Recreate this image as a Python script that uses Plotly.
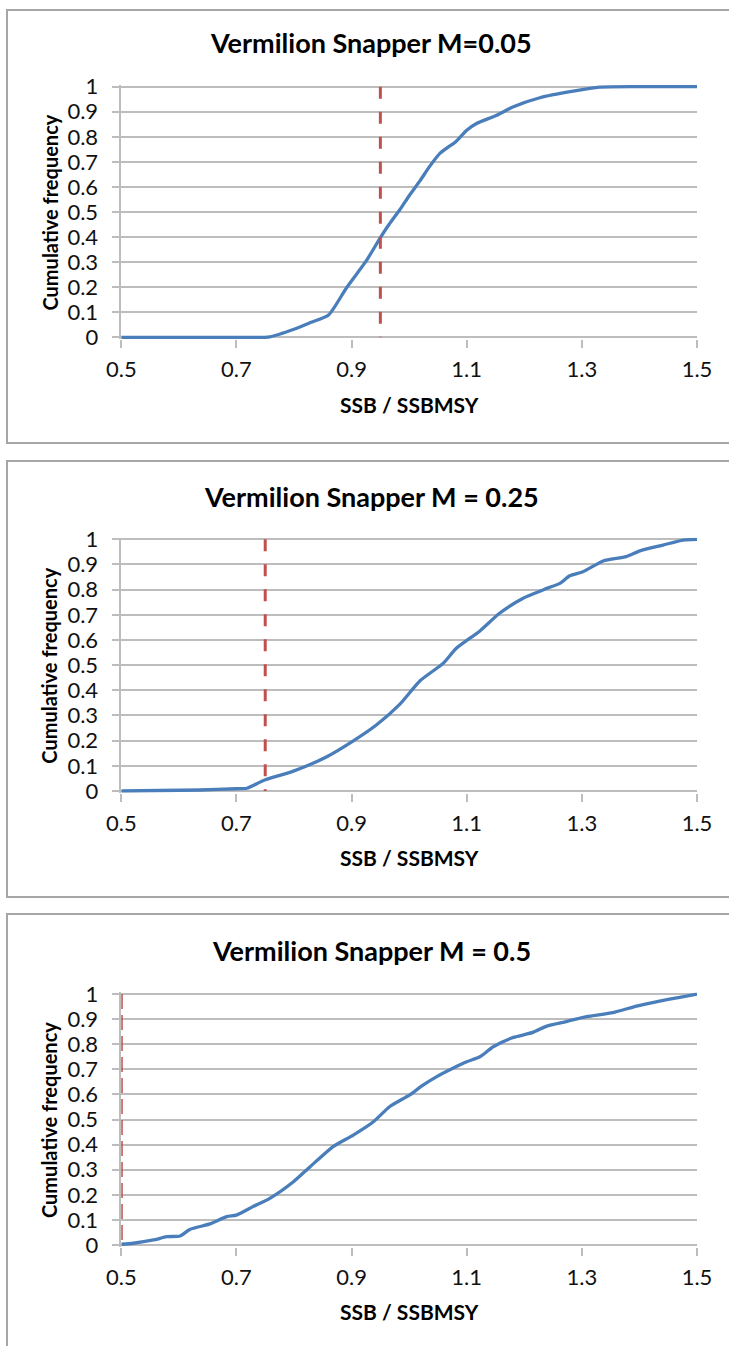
import plotly.graph_objects as go

# ---------------- data ----------------
x_ticks = [0.5, 0.7, 0.9, 1.1, 1.3, 1.5]
x_tick_labels = ["0.5", "0.7", "0.9", "1.1", "1.3", "1.5"]
y_ticks = [0, 0.1, 0.2, 0.3, 0.4, 0.5, 0.6, 0.7, 0.8, 0.9, 1]
y_tick_labels = ["0", "0.1", "0.2", "0.3", "0.4", "0.5", "0.6", "0.7", "0.8", "0.9", "1"]

titles = ["Vermilion Snapper M=0.05", "Vermilion Snapper M = 0.25", "Vermilion Snapper M = 0.5"]
x_title = "SSB / SSBMSY"
y_title = "Cumulative frequency"

# reference lines (SSB/SSBMSY threshold)
thresholds = [0.95, 0.75, 0.5]

p1_x = [0.5, 0.70, 0.758, 0.80, 0.83, 0.86, 0.891, 0.926, 0.949, 0.965, 0.984, 1.0, 1.019,
        1.035, 1.053, 1.066, 1.08, 1.1, 1.117, 1.152, 1.18, 1.227, 1.285, 1.331, 1.4, 1.5]
p1_y = [0.0, 0.0, 0.002, 0.032, 0.06, 0.089, 0.197, 0.307, 0.394, 0.45, 0.51, 0.565, 0.625,
        0.68, 0.733, 0.756, 0.778, 0.826, 0.853, 0.886, 0.919, 0.956, 0.982, 0.998, 1.0, 1.0]

p2_x = [0.5, 0.637, 0.70, 0.718, 0.749, 0.799, 0.857, 0.903, 0.943, 0.984, 1.019, 1.059,
        1.082, 1.123, 1.157, 1.198, 1.239, 1.262, 1.279, 1.302, 1.337, 1.377, 1.401, 1.441,
        1.476, 1.5]
p2_y = [0.0, 0.004, 0.009, 0.011, 0.044, 0.079, 0.136, 0.199, 0.262, 0.345, 0.438, 0.507,
        0.567, 0.636, 0.706, 0.766, 0.805, 0.825, 0.855, 0.871, 0.914, 0.931, 0.954, 0.977,
        0.997, 1.0]

p3_x = [0.5, 0.521, 0.556, 0.579, 0.602, 0.619, 0.654, 0.683, 0.700, 0.729, 0.758, 0.799,
        0.828, 0.868, 0.903, 0.938, 0.966, 1.001, 1.024, 1.048, 1.076, 1.100, 1.123, 1.146,
        1.181, 1.215, 1.239, 1.273, 1.308, 1.354, 1.395, 1.435, 1.470, 1.5]
p3_y = [0.003, 0.007, 0.02, 0.033, 0.036, 0.062, 0.084, 0.113, 0.119, 0.153, 0.186, 0.252,
        0.312, 0.392, 0.438, 0.491, 0.551, 0.598, 0.637, 0.671, 0.704, 0.730, 0.750, 0.790,
        0.827, 0.847, 0.872, 0.890, 0.910, 0.926, 0.952, 0.972, 0.987, 1.0]

series_x = [p1_x, p2_x, p3_x]
series_y = [p1_y, p2_y, p3_y]

# ---------------- layout geometry (pixels) ----------------
W, H = 729, 1346
FONT = "Lato"
BLUE = "#4A7EBB"
RED = "#C0504D"
GRID = "#BDBDBD"
BORDER = "#A6A6A6"

plot_left, plot_right = 121.3, 697.0
# (top of y=1, bottom of y=0) for each panel
panel_y = [(86.7, 337.3), (539.3, 791.0), (994.0, 1245.0)]
# border boxes (top, bottom)
boxes = [(10, 443), (461, 897), (914, 1360)]
box_left = 7
YPAD = 0.007

def px_x(p):
    return p / W

def px_y(p):
    return 1 - p / H

fig = go.Figure()
annotations = []
shapes = []

for i in range(3):
    n = "" if i == 0 else str(i + 1)
    xa, ya = "x" + n, "y" + n
    top, bot = panel_y[i]
    unit = bot - top
    dom_top = top - YPAD * unit
    dom_bot = bot + YPAD * unit

    fig.add_trace(go.Scatter(
        x=series_x[i], y=series_y[i], mode="lines",
        line=dict(color=BLUE, width=3.3, shape="spline", smoothing=0.6),
        xaxis=xa, yaxis=ya, showlegend=False, hoverinfo="skip"))
    fig.add_trace(go.Scatter(
        x=[thresholds[i], thresholds[i]], y=[1, 0], mode="lines",
        line=dict(color=RED, width=3, dash="12px,13px" if i < 2 else "15px,6px"),
        xaxis=xa, yaxis=ya, showlegend=False, hoverinfo="skip"))

    fig.update_layout(**{
        "xaxis" + n: dict(
            domain=[px_x(plot_left), px_x(plot_right)], range=[0.5, 1.5],
            anchor=ya, tickvals=x_ticks, ticktext=x_tick_labels,
            showgrid=False, zeroline=False, showline=False, automargin=False,
            ticks="outside", ticklen=8, tickwidth=1.5, tickcolor=GRID,
            ticklabelstandoff=3,
            tickfont=dict(family=FONT, size=22, color="#111111")),
        "yaxis" + n: dict(
            domain=[px_y(dom_bot), px_y(dom_top)], range=[-YPAD, 1 + YPAD],
            anchor=xa, tickvals=y_ticks, ticktext=y_tick_labels,
            showgrid=True, gridcolor=GRID, gridwidth=1.5, zeroline=False,
            showline=True, linecolor=GRID, linewidth=1.5, automargin=False,
            ticks="outside", ticklen=8, tickwidth=1.5, tickcolor=GRID,
            ticklabelstandoff=9,
            tickfont=dict(family=FONT, size=22, color="#111111")),
    })

    shift = bot - panel_y[0][1]
    annotations.append(dict(
        text="<b>" + titles[i] + "</b>", xref="paper", yref="paper",
        x=px_x(371), y=px_y(42.7 + shift), xanchor="center", yanchor="middle",
        showarrow=False, font=dict(family=FONT, size=27, color="#000000")))
    annotations.append(dict(
        text="<b>" + x_title + "</b>", xref="paper", yref="paper",
        x=px_x(409), y=px_y(404 + shift), xanchor="center", yanchor="middle",
        showarrow=False, font=dict(family=FONT, size=21, color="#000000")))
    annotations.append(dict(
        text="<b>" + y_title + "</b>", xref="paper", yref="paper",
        x=px_x(49), y=px_y((top + bot) / 2 + 0.5), xanchor="center", yanchor="middle",
        textangle=-90, showarrow=False,
        font=dict(family=FONT, size=20, color="#000000")))

    btop, bbot = boxes[i]
    shapes.append(dict(
        type="rect", xref="paper", yref="paper",
        x0=px_x(box_left), x1=px_x(W + 20), y0=px_y(bbot), y1=px_y(btop),
        line=dict(color=BORDER, width=2), fillcolor="rgba(0,0,0,0)", layer="below"))

fig.update_layout(
    width=W, height=H, autosize=False,
    margin=dict(l=0, r=0, t=0, b=0, pad=0, autoexpand=False),
    paper_bgcolor="white", plot_bgcolor="white",
    annotations=annotations, shapes=shapes,
    font=dict(family=FONT),
)

fig.write_html(
    "out.html",
    config={"displayModeBar": False},
    post_script="document.body.style.margin='0';document.body.style.overflow='hidden';",
)
